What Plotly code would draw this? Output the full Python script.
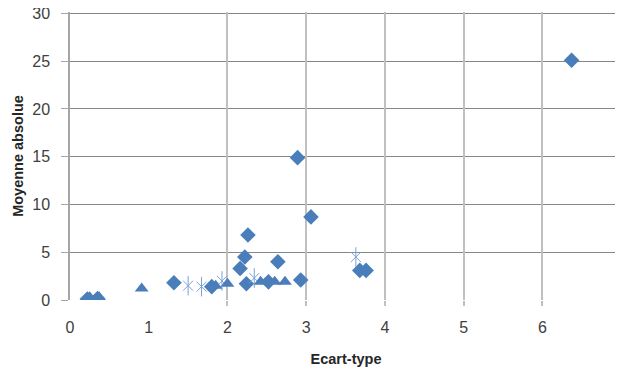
import plotly.graph_objects as go

# values
diamond_x = [6.37, 2.89, 3.06, 2.26, 2.22, 2.16, 2.64, 2.24, 2.93, 3.68, 3.76, 1.32, 1.80, 2.52, 0.22, 0.35]
diamond_y = [25.1, 14.9, 8.7, 6.8, 4.5, 3.3, 4.0, 1.7, 2.1, 3.1, 3.1, 1.8, 1.4, 1.9, 0.1, 0.15]

triangle_x = [0.25, 0.37, 0.91, 1.85, 2.0, 2.42, 2.6, 2.73]
triangle_y = [0.3, 0.3, 1.2, 1.5, 1.7, 1.9, 1.9, 1.9]

asterisk_x = [1.5, 1.67, 1.93, 2.34, 3.63]
asterisk_y = [1.5, 1.4, 2.0, 2.3, 4.5]

x_ticks = [0, 1, 2, 3, 4, 5, 6, 7]
x_grid = [2, 3, 4, 5, 6, 7]
y_ticks = [0, 5, 10, 15, 20, 25, 30]

blue = '#4A7EBB'
light_blue = '#7AA3D8'
font = 'Liberation Sans'

fig = go.Figure()

# triangles sit on the overlay axis so that the gridline axis gets drawn
fig.add_trace(go.Scatter(x = triangle_x, y = triangle_y, mode = 'markers', xaxis = 'x2',
                         marker = dict(symbol = 'triangle-up', size = 12, color = blue,
                                       line = dict(width = 0))))
fig.add_trace(go.Scatter(x = diamond_x, y = diamond_y, mode = 'markers',
                         marker = dict(symbol = 'diamond', size = 12, color = blue,
                                       line = dict(width = 0))))
# excel-style asterisk: an x plus a vertical bar
fig.add_trace(go.Scatter(x = asterisk_x, y = asterisk_y, mode = 'markers',
                         marker = dict(symbol = 'x-thin-open', size = 10, color = light_blue,
                                       line = dict(width = 1, color = light_blue))))
fig.add_trace(go.Scatter(x = asterisk_x, y = asterisk_y, mode = 'markers',
                         marker = dict(symbol = 'line-ns-open', size = 14, color = light_blue,
                                       line = dict(width = 1, color = light_blue))))

# page body has an 8px margin at the top/left, so the figure is shifted by 8px
fig.update_layout(
    width = 615, height = 359,
    margin = dict(l = 62, r = 1, t = 4, b = 67),
    paper_bgcolor = 'white', plot_bgcolor = 'white',
    showlegend = False,
    font = dict(family = font, size = 16, color = '#404040'),
    xaxis = dict(range = [0, 7.01], tickvals = x_ticks, showgrid = False, zeroline = False,
                 showline = False, ticks = '', ticklabelstandoff = 16, automargin = False,
                 ticklabeloverflow = 'allow',
                 title = dict(text = '<b>Ecart-type</b>', standoff = 18,
                              font = dict(family = font, size = 14.5, color = '#262626'))),
    xaxis2 = dict(range = [0, 7.01], overlaying = 'x', anchor = 'y', side = 'bottom',
                  tickvals = x_grid, showticklabels = False, showgrid = True,
                  gridcolor = '#C0C0C0', gridwidth = 2, zeroline = False, automargin = False,
                  ticks = 'outside', ticklen = 5, tickcolor = '#C0C0C0', tickwidth = 2),
    yaxis = dict(range = [0, 30.15], tickvals = y_ticks, showgrid = True, gridcolor = '#868686',
                 gridwidth = 1, zeroline = False, showline = True, linecolor = '#A6A6A6',
                 linewidth = 1.5, ticks = 'outside', ticklen = 7, tickcolor = '#A6A6A6',
                 ticklabelstandoff = 8, automargin = False, ticklabeloverflow = 'allow',
                 title = dict(text = '<b>Moyenne absolue</b>', standoff = 5,
                              font = dict(family = font, size = 14.5, color = '#262626'))),
)

fig.write_html("out.html")
